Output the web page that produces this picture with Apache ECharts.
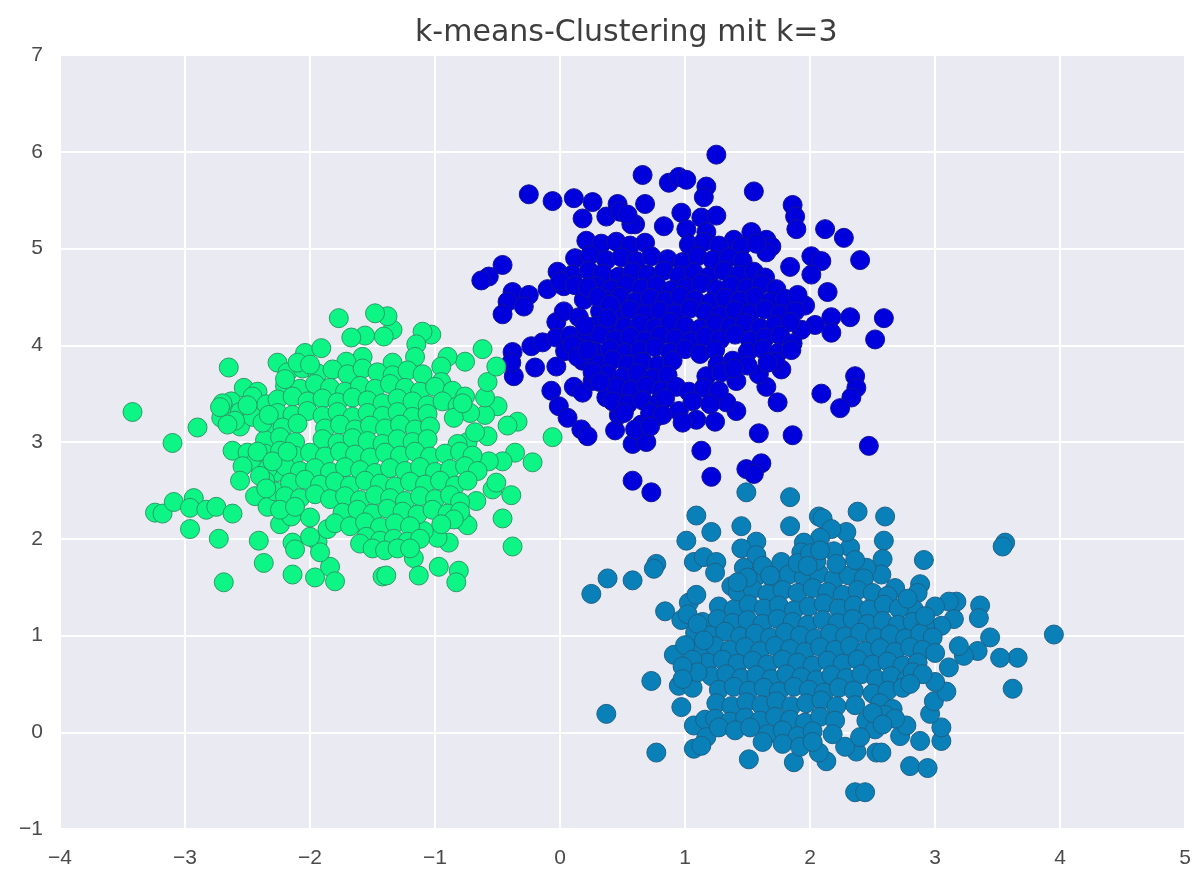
<!DOCTYPE html>
<html><head><meta charset="utf-8">
<script src="https://cdn.jsdelivr.net/npm/echarts@6/dist/echarts.min.js"></script>
<style>html,body{margin:0;background:#fff}#c{width:1194px;height:873px}</style></head>
<body><div id="c"></div>
<script>
const titleText = "k-means-Clustering mit k=3";
const blueOuter = [[1.25,5.97],[.66,5.76],[.87,5.68],[.95,5.74],[1.01,5.71],[1.17,5.64],[1.15,5.53],[1.55,5.59],[-.25,5.56],[-.06,5.49],[.11,5.52],[.26,5.48],[.46,5.46],[.68,5.46],[.18,5.31],[.37,5.33],[.48,5.38],[.6,5.25],[1.86,5.45],[1.88,5.33],[1.89,5.2],[2.12,5.2],[2.27,5.11],[2.4,4.88],[2.01,4.92],[2.09,4.87],[2.01,4.73],[2.14,4.55],[1.84,4.81],[1.96,4.41],[2.17,4.29],[2.32,4.29],[2.59,4.28],[2.52,4.06],[2.17,4.13],[2.04,4.21],[1.93,4.16],[2.36,3.68],[2.37,3.56],[2.33,3.46],[2.24,3.35],[2.09,3.5],[1.74,3.41],[1.65,3.57],[1.59,3.7],[1.77,3.75],[1.59,3.09],[1.86,3.07],[2.47,2.96],[1.13,2.91],[1.61,2.78],[1.49,2.72],[1.55,2.67],[1.21,2.64],[.58,2.6],[.73,2.48],[-.46,4.83],[-.57,4.71],[-.63,4.67],[-.38,4.55],[-.42,4.45],[-.46,4.32],[-.25,4.52],[-.29,4.4],[-.1,4.58],[.03,4.61],[-.03,4.24],[.03,4.35],[.15,4.29],[.19,4.47],[-.38,3.93],[-.37,3.68],[-.39,3.82],[-.23,3.99],[-.14,4.03],[-.2,3.77],[-.03,3.78],[-.03,4.08],[-.07,3.53],[-.01,3.37],[.06,3.25],[.17,3.13],[.22,3.06],[.11,3.57],[.18,3.51],[.26,3.63],[.44,3.12],[.58,2.98],[.69,3.0],[.65,3.18],[.77,3.26],[.95,3.32],[1.09,3.23],[1.24,3.21],[1.41,3.32],[1.33,3.41],[1.41,3.63],[.47,3.28],[.37,3.46],[.49,3.51],[.57,5.25],[.54,5.35],[.83,5.23],[.97,5.37],[1.13,5.32],[1.25,5.34],[1.17,5.17],[1.01,5.2],[1.39,5.09],[1.53,5.17],[1.65,5.09],[1.69,5.02],[1.65,4.96]];
const blueCore = [[.21,5.08],[.33,5.05],[.45,5.07],[.56,5.03],[.68,5.06],[1.03,5.04],[1.15,5.07],[1.27,5.03],[1.45,5.02],[1.57,5.05],
[.12,4.9],[.24,4.93],[.37,4.88],[.49,4.91],[.61,4.87],[.73,4.92],[.86,4.89],[.98,4.86],[1.1,4.92],[1.22,4.88],[1.35,4.91],[1.46,4.87],
[-.02,4.76],[.1,4.73],[.23,4.77],[.34,4.74],[.47,4.71],[.58,4.76],[.7,4.73],[.83,4.77],[.95,4.72],[1.07,4.75],[1.19,4.71],[1.31,4.77],[1.43,4.73],[1.55,4.76],[1.64,4.7],
[.29,4.61],[.41,4.58],[.53,4.63],[.65,4.59],[.77,4.62],[.89,4.57],[1.01,4.6],[1.13,4.64],[1.25,4.58],[1.37,4.62],[1.49,4.59],[1.61,4.63],[1.73,4.58],
[.36,4.47],[.48,4.5],[.6,4.45],[.72,4.49],[.84,4.46],[.96,4.51],[1.08,4.47],[1.2,4.44],[1.32,4.49],[1.44,4.46],[1.56,4.5],[1.68,4.45],[1.8,4.48],[1.9,4.52],
[.32,4.35],[.44,4.33],[.56,4.37],[.68,4.32],[.8,4.36],[.92,4.33],[1.04,4.38],[1.16,4.34],[1.28,4.31],[1.4,4.36],[1.52,4.33],[1.64,4.37],[1.76,4.32],[1.88,4.35],
[.28,4.2],[.4,4.23],[.52,4.19],[.64,4.22],[.76,4.18],[.88,4.24],[1,4.2],[1.12,4.17],[1.24,4.22],[1.36,4.19],[1.48,4.23],[1.6,4.18],[1.72,4.21],[1.84,4.24],
[.08,4.1],[.2,4.07],[.32,4.11],[.44,4.06],[.56,4.09],[.68,4.05],[.8,4.1],[.92,4.07],[1.04,4.04],[1.16,4.09],[1.28,4.06],[1.4,4.11],[1.52,4.05],[1.64,4.08],[1.76,4.1],[1.86,4.02],
[.04,3.94],[.16,3.97],[.28,3.93],[.4,3.96],[.52,3.92],[.64,3.95],[.76,3.98],[.88,3.93],[1.0,3.96],[1.12,3.91],[1.24,3.95],[1.5,3.93],[1.62,3.96],[1.74,3.92],[1.85,3.95],
[.18,3.84],[.3,3.81],[.42,3.85],[.54,3.8],[.66,3.83],[.78,3.79],[.9,3.84],[1.26,3.8],[1.38,3.84],[1.5,3.79],[1.72,3.83],
[.38,3.7],[.5,3.67],[.62,3.71],[.74,3.66],[.86,3.69],[1.17,3.68],[1.29,3.72],[1.39,3.76],[1.66,3.82],
[.45,3.57],[.57,3.54],[.69,3.58],[.81,3.53],[.93,3.57],[1.03,3.52],[1.15,3.56],[1.27,3.53],
[.42,3.42],[.54,3.39],[.66,3.43],[.78,3.4],[.84,3.45],[1.06,3.42],[1.2,3.39],[.51,3.3],[.72,3.3],[.82,3.28],[.98,3.2],[.6,3.13],[.72,3.16],
[.0,4.66],[.12,4.62],[.22,4.6],[.1,4.0],[.14,3.88],[.26,3.72],[.32,3.62],[.22,3.95],[.3,4.5],[.4,4.42],[.38,4.28],[.2,4.2]];
const tealOuter = [[1.49,2.48],[1.84,2.43],[1.09,2.24],[2.07,2.23],[2.1,2.21],[2.38,2.28],[2.6,2.23],[1.45,2.13],[1.84,2.13],[1.21,2.07],[1.01,1.98],[2.59,1.98],[3.56,1.96],[3.54,1.92],[2.91,1.78],[1.57,1.97],[1.45,1.9],[1.57,1.83],[.77,1.74],[.75,1.69],[.38,1.59],[.58,1.57],[.25,1.43],[1.07,1.76],[1.15,1.81],[1.25,1.76],[1.24,1.65],[1.47,1.7],[1.77,1.76],[.84,1.25],[.97,1.16],[1.03,1.34],[1.09,1.42],[1.37,1.51],[1.47,1.51],[.91,.8],[.73,.53],[.37,.19],[.77,-.21],[.95,.48],[1.06,.46],[.97,.26],[1.07,.07],[1.16,.13],[1.17,-.05],[1.07,-.17],[1.13,-.14],[1.51,-.28],[1.87,-.31],[2.13,-.3],[2.07,-.21],[2.36,-.62],[2.44,-.62],[2.8,-.35],[2.94,-.37],[2.53,-.21],[2.57,-.21],[2.37,-.2],[2.28,-.15],[2.88,-.09],[2.72,-.04],[2.77,.07],[3.05,-.09],[3.05,.05],[2.96,.19],[2.99,.32],[3.09,.42],[3.0,.52],[3.62,.45],[3.95,1.01],[3.66,.77],[3.52,.77],[3.44,.98],[3.34,.84],[3.23,.79],[3.19,.89],[3.11,.67],[3.36,1.31],[3.35,1.18],[3.17,1.35],[3.11,1.35],[3.0,1.3],[3.15,1.17],[3.05,1.1],[2.88,1.53],[2.86,1.44],[2.83,1.27],[2.68,1.49],[2.58,1.79],[2.57,1.63],[2.45,1.7],[2.32,1.91],[2.29,2.07],[2.17,2.1],[2.08,2.01],[1.95,1.96],[2.19,1.87],[1.93,1.86]];
const tealCore = [[1.58,1.62],[1.7,1.59],[1.83,1.63],[1.95,1.6],[2.07,1.64],[2.19,1.58],[2.31,1.62],[2.43,1.59],[1.9,1.75],[2.05,1.77],[2.21,1.74],[2.36,1.78],
[1.42,1.45],[1.54,1.48],[1.66,1.43],[1.78,1.47],[1.9,1.44],[2.02,1.49],[2.14,1.45],[2.26,1.42],[2.38,1.47],[2.5,1.44],[2.62,1.41],
[1.27,1.3],[1.39,1.27],[1.51,1.32],[1.63,1.28],[1.75,1.31],[1.87,1.26],[1.99,1.3],[2.11,1.33],[2.23,1.28],[2.35,1.31],[2.47,1.27],[2.59,1.32],[2.71,1.28],
[1.14,1.14],[1.26,1.17],[1.38,1.13],[1.5,1.16],[1.62,1.12],[1.74,1.17],[1.86,1.14],[1.98,1.11],[2.1,1.16],[2.22,1.13],[2.34,1.17],[2.46,1.12],[2.58,1.15],[2.7,1.11],[2.82,1.14],[2.92,1.09],
[1.08,1.03],[1.2,1],[1.32,1.04],[1.44,.99],[1.56,1.02],[1.68,.98],[1.8,1.03],[1.92,1],[2.04,.97],[2.16,1.02],[2.28,.99],[2.4,1.03],[2.52,.98],[2.64,1.01],[2.76,.97],[2.88,1.02],[2.98,.98],
[1.12,.86],[1.24,.89],[1.36,.85],[1.48,.88],[1.6,.84],[1.72,.89],[1.84,.86],[1.96,.83],[2.08,.88],[2.2,.85],[2.32,.89],[2.44,.84],[2.56,.87],[2.68,.83],[2.8,.88],[2.9,.85],[3.0,.82],
[1.18,.72],[1.3,.75],[1.42,.71],[1.54,.74],[1.66,.7],[1.78,.75],[1.9,.72],[2.02,.69],[2.14,.74],[2.26,.71],[2.38,.75],[2.5,.7],[2.62,.73],[2.74,.69],[2.86,.72],
[1.21,.58],[1.33,.6],[1.45,.56],[1.57,.59],[1.69,.55],[1.81,.6],[1.93,.57],[2.05,.54],[2.17,.59],[2.29,.56],[2.41,.6],[2.53,.55],[2.65,.58],[2.77,.54],
[1.27,.44],[1.39,.47],[1.51,.43],[1.63,.46],[1.75,.42],[1.87,.47],[1.99,.44],[2.11,.41],[2.23,.46],[2.35,.43],[2.5,.4],[2.62,.43],[2.74,.46],
[1.25,.3],[1.37,.27],[1.49,.31],[1.61,.28],[1.73,.32],[1.85,.27],[1.97,.3],[2.09,.33],[2.21,.27],[2.36,.28],[2.56,.3],[2.66,.24],
[1.24,.14],[1.36,.11],[1.48,.15],[1.6,.12],[1.72,.16],[1.84,.13],[1.96,.1],[2.08,.16],[2.2,.12],[2.45,.12],[2.52,.03],
[1.27,.05],[1.4,.02],[1.52,.05],[1.66,-.02],[1.78,.02],[1.9,-.04],[2.02,.01],[2.18,-.02],[1.62,-.1],[1.78,-.12],[1.92,-.15],[2.02,-.1],[2.4,-.05],
[1.0,.9],[1.06,.75],[1.1,.62],[.98,.68],[1.02,1.22],[1.1,1.12],[1.15,.95],[.98,.55],[1.5,1.6],[1.42,1.55],[1.62,1.72],[1.68,1.62],[2.0,1.85],[2.08,1.88],[1.98,1.72],[2.82,.62],[2.9,.6],[2.92,1.2],[2.78,1.38],[2.8,.5],[2.6,.18],[2.68,.14],[2.5,.2],[2.58,.08]];
const greenOuter = [[-3.42,3.31],[-3.1,2.99],[-2.9,3.15],[-2.65,3.77],[-3.24,2.27],[-3.18,2.26],[-3.09,2.38],[-2.93,2.42],[-2.96,2.32],[-2.83,2.3],[-2.75,2.33],[-2.62,2.26],[-2.96,2.1],[-2.73,2.0],[-2.69,1.55],[-2.41,1.98],[-2.37,1.75],[-2.14,1.63],[-1.96,1.6],[-1.84,1.71],[-1.8,1.56],[-1.42,1.61],[-1.39,1.62],[-1.17,1.8],[-1.13,1.62],[-.97,1.71],[-.81,1.67],[-.83,1.55],[-.38,1.92],[-.46,2.21],[-.39,2.45],[-.54,2.51],[-.51,2.58],[-.67,2.39],[-.78,2.19],[-.74,2.14],[-.89,1.96],[-.98,2.01],[-1.09,2.08],[-.22,2.79],[-.36,2.89],[-.46,2.8],[-.57,2.8],[-.06,3.05],[-.34,3.21],[-.42,3.17],[-.58,3.06],[-.74,3.0],[-.5,3.37],[-.6,3.28],[-.6,3.46],[-.58,3.62],[-.51,3.78],[-.62,3.96],[-.76,3.83],[-.9,3.88],[-.95,3.78],[-1.03,4.11],[-1.1,4.14],[-1.15,4.01],[-1.16,3.88],[-1.34,4.16],[-1.41,4.09],[-1.56,4.1],[-1.67,4.08],[-1.38,4.3],[-1.48,4.33],[-1.77,4.28],[-2.26,3.82],[-2.04,3.92],[-1.91,3.97],[-1.58,3.88],[-1.34,3.82],[-1.71,3.83],[-2.53,3.56],[-2.42,3.52],[-2.63,3.42],[-2.67,3.32],[-2.71,3.25],[-2.56,3.16],[-2.56,3.31],[-2.46,3.47],[-2.35,3.39],[-2.46,3.26],[-2.62,2.91],[-2.5,2.89],[-2.44,2.79],[-2.54,2.75],[-2.56,2.6],[-2.44,2.44],[-2.34,2.33],[-2.24,2.15],[-2.15,2.23],[-2.28,2.49],[-2.26,2.69],[-2,2.22],[-2.14,1.96],[-2.12,1.89],[-1.94,1.97],[-1.92,1.86],[-2,2.02],[-1.86,2.1]];
const greenCore = [[-2.18,3.72],[-2.06,3.76],[-1.94,3.71],[-1.82,3.75],[-1.7,3.7],[-1.58,3.76],[-1.46,3.72],[-1.34,3.69],[-1.22,3.74],[-1.1,3.7],[-.95,3.62],
[-2.2,3.58],[-2.08,3.55],[-1.96,3.6],[-1.84,3.56],[-1.72,3.52],[-1.6,3.58],[-1.48,3.55],[-1.36,3.6],[-1.24,3.56],[-1.12,3.52],[-1,3.57],[-.86,3.53],[-.76,3.47],
[-2.26,3.44],[-2.14,3.47],[-2.02,3.42],[-1.9,3.45],[-1.78,3.41],[-1.66,3.46],[-1.54,3.43],[-1.42,3.4],[-1.3,3.45],[-1.18,3.42],[-1.06,3.38],[-.94,3.42],[-.82,3.37],
[-2.26,3.3],[-2.14,3.28],[-2.02,3.32],[-1.9,3.27],[-1.78,3.31],[-1.66,3.26],[-1.54,3.3],[-1.42,3.27],[-1.3,3.31],[-1.18,3.26],[-1.06,3.29],
[-2.34,3.18],[-2.22,3.15],[-2.1,3.19],[-1.88,3.14],[-1.76,3.18],[-1.64,3.13],[-1.52,3.17],[-1.4,3.14],[-1.28,3.18],[-1.16,3.13],[-1.04,3.16],
[-2.36,3.02],[-2.24,3.05],[-2.12,3.0],[-1.9,3.03],[-1.78,2.99],[-1.66,3.04],[-1.54,3.01],[-1.42,2.98],[-1.3,3.03],[-1.18,3],[-1.06,3.03],[-.82,2.98],[-.68,3.1],
[-2.36,2.88],[-2.24,2.91],[-2.12,2.86],[-2,2.89],[-1.88,2.85],[-1.76,2.9],[-1.64,2.87],[-1.52,2.84],[-1.4,2.89],[-1.28,2.86],[-1.16,2.9],[-1.04,2.85],[-.92,2.88],[-.8,2.9],[-.7,2.86],
[-2.34,2.72],[-2.2,2.75],[-2.08,2.7],[-1.96,2.73],[-1.84,2.69],[-1.72,2.74],[-1.6,2.71],[-1.48,2.68],[-1.36,2.73],[-1.24,2.7],[-1.12,2.74],[-1,2.69],[-.88,2.72],[-.76,2.75],[-.66,2.7],
[-2.36,2.6],[-2.16,2.58],[-2.04,2.61],[-1.92,2.56],[-1.8,2.59],[-1.68,2.55],[-1.56,2.6],[-1.44,2.57],[-1.32,2.54],[-1.2,2.59],[-1.08,2.56],[-.96,2.6],[-.84,2.55],[-.74,2.6],
[-2.2,2.44],[-2.08,2.42],[-1.96,2.46],[-1.84,2.41],[-1.72,2.44],[-1.6,2.4],[-1.48,2.45],[-1.36,2.42],[-1.24,2.39],[-1.12,2.44],[-1,2.41],[-.88,2.45],[-.8,2.38],
[-2.24,2.3],[-2.12,2.33],[-1.74,2.27],[-1.62,2.3],[-1.5,2.26],[-1.38,2.31],[-1.26,2.28],[-1.14,2.25],[-1.02,2.3],[-.9,2.26],[-.8,2.28],
[-1.8,2.16],[-1.68,2.13],[-1.56,2.17],[-1.44,2.12],[-1.32,2.16],[-1.2,2.13],[-1.55,2.02],[-1.44,1.98],[-1.33,2.0],[-1.22,1.97],[-1.12,2.0],
[-2.7,3.4],[-2.6,3.22],[-2.5,3.38],[-2.38,3.2],[-2.33,3.28],[-2.66,3.18],[-2.72,3.36],[-2.4,2.65],[-2.35,2.52],[-2.42,2.9],[-2.3,2.8],[-2.18,2.9],[-2.1,3.82],[-2.2,3.65],[-2.0,3.8],[-.72,3.3],[-.85,3.25],[-.78,3.4],[-1.6,1.95],[-1.5,1.9],[-1.4,1.88],[-1.3,1.9],[-1.2,1.9],[-.85,2.2],[-.95,2.15]];
const xTicks = {min:-4,max:5,interval:1};
const yTicks = {min:-1,max:7,interval:1};
const series = [
  {name:"a",data:blueOuter.concat(blueCore),color:"#0000dc",edge:"#12129a"},
  {name:"b",data:tealOuter.concat(tealCore),color:"#0a80b8",edge:"#1d6187"},
  {name:"c",data:greenOuter.concat(greenCore),color:"#0cf585",edge:"#2c9a66"}
];
const minusFmt = v => String(v).replace("-", "\u2212");
const labelStyle = {color:"#4a4a4a",fontSize:21,fontFamily:"Liberation Sans",formatter:minusFmt};
const axisCommon = {
  axisLine:{show:false},axisTick:{show:false},
  splitLine:{show:true,lineStyle:{color:"#ffffff",width:2}}
};
const chart = echarts.init(document.getElementById("c"),null,{renderer:"canvas"});
chart.setOption({
  backgroundColor:"#ffffff",animation:false,
  title:{text:titleText,left:410,top:13,
    textStyle:{color:"#3e3e3e",fontSize:30,fontWeight:"normal",fontFamily:"DejaVu Sans"}},
  grid:{left:60,right:7,top:55,bottom:44,show:true,backgroundColor:"#EAEAF2",borderWidth:0},
  xAxis:Object.assign({type:"value"},xTicks,axisCommon,{axisLabel:Object.assign({},labelStyle,{margin:19})}),
  yAxis:Object.assign({type:"value"},yTicks,axisCommon,{axisLabel:Object.assign({},labelStyle,{margin:17})}),
  series:series.map(s=>({type:"scatter",name:s.name,data:s.data,symbolSize:19,
    itemStyle:{color:s.color,opacity:1,borderColor:s.edge,borderWidth:1}}))
});
</script></body></html>
